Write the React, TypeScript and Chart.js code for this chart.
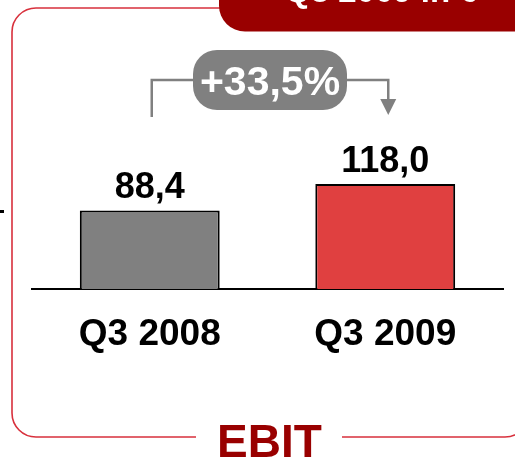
import React, { useEffect, useRef } from "react";
import { Chart, registerables } from "chart.js";

Chart.register(...registerables);

const categories = ["Q3 2008", "Q3 2009"];
const ebitValues = [88.4, 118.0];
const valueLabels = ["88,4", "118,0"];
const changeLabel = "+33,5%";
const barColors = ["#808080", "#e04040"];
const titleText = "EBIT";
const headerText = "Q3 2009 in €";

const FONT = "'Liberation Sans', Arial, Helvetica, sans-serif";
const FRAME_RED = "#d8303c";
const DARK_RED = "#990000";
const GRAY = "#808080";

function roundRectPath(ctx: CanvasRenderingContext2D, x: number, y: number, w: number, h: number, r: number) {
  ctx.beginPath();
  ctx.moveTo(x + r, y);
  ctx.lineTo(x + w - r, y);
  ctx.arcTo(x + w, y, x + w, y + r, r);
  ctx.lineTo(x + w, y + h - r);
  ctx.arcTo(x + w, y + h, x + w - r, y + h, r);
  ctx.lineTo(x + r, y + h);
  ctx.arcTo(x, y + h, x, y + h - r, r);
  ctx.lineTo(x, y + r);
  ctx.arcTo(x, y, x + r, y, r);
  ctx.closePath();
}

const decorPlugin = {
  id: "decor",
  beforeDraw(chart: any) {
    const ctx: CanvasRenderingContext2D = chart.ctx;
    ctx.save();
    ctx.fillStyle = "#ffffff";
    ctx.fillRect(0, 0, chart.width, chart.height);

    // frame
    const L = 12, T = 8, R = 529, B = 437, rad = 24;
    ctx.strokeStyle = FRAME_RED;
    ctx.lineWidth = 1.6;
    ctx.beginPath();
    ctx.moveTo(196, B);
    ctx.lineTo(L + rad, B);
    ctx.arcTo(L, B, L, B - rad, rad);
    ctx.lineTo(L, T + rad);
    ctx.arcTo(L, T, L + rad, T, rad);
    ctx.lineTo(225, T);
    ctx.stroke();
    ctx.beginPath();
    ctx.moveTo(342, B);
    ctx.lineTo(R - rad, B);
    ctx.arcTo(R, B, R, B - rad, rad);
    ctx.lineTo(R, T);
    ctx.stroke();

    // header tab
    ctx.fillStyle = DARK_RED;
    roundRectPath(ctx, 219, -60, 340, 91.5, 26);
    ctx.fill();
    ctx.fillStyle = "#ffffff";
    ctx.font = `bold 33px ${FONT}`;
    ctx.textAlign = "left";
    ctx.textBaseline = "alphabetic";
    ctx.fillText(headerText, 285, 1.5);

    // title
    ctx.fillStyle = DARK_RED;
    ctx.font = `bold 46px ${FONT}`;
    ctx.textAlign = "center";
    ctx.fillText(titleText, 269.5, 457);

    // small dash at left edge
    ctx.fillStyle = "#000000";
    ctx.fillRect(0, 210, 4, 3);
    ctx.restore();
  },
  afterDatasetsDraw(chart: any) {
    const ctx: CanvasRenderingContext2D = chart.ctx;
    const bars = chart.getDatasetMeta(0).data;
    ctx.save();
    // value labels
    ctx.fillStyle = "#000000";
    ctx.font = `bold 36px ${FONT}`;
    ctx.textAlign = "center";
    ctx.textBaseline = "alphabetic";
    bars.forEach((bar: any, i: number) => {
      ctx.fillText(valueLabels[i], bar.x, bar.y - 12);
    });

    // change annotation
    const lx = bars[0].x + 2;
    const rx = bars[1].x + 3;
    const lineY = 80;
    const boxL = 193, boxR = 347, boxT = 50, boxB = 110;
    ctx.strokeStyle = GRAY;
    ctx.lineWidth = 2.5;
    ctx.beginPath();
    ctx.moveTo(lx, 117);
    ctx.lineTo(lx, lineY);
    ctx.lineTo(boxL, lineY);
    ctx.stroke();
    ctx.beginPath();
    ctx.moveTo(boxR, lineY);
    ctx.lineTo(rx, lineY);
    ctx.lineTo(rx, 100);
    ctx.stroke();
    ctx.fillStyle = GRAY;
    ctx.beginPath();
    ctx.moveTo(rx - 8, 99);
    ctx.lineTo(rx + 8, 99);
    ctx.lineTo(rx, 115);
    ctx.closePath();
    ctx.fill();
    roundRectPath(ctx, boxL, boxT, boxR - boxL, boxB - boxT, 24);
    ctx.fill();
    ctx.fillStyle = "#ffffff";
    ctx.font = `bold 41px ${FONT}`;
    ctx.textAlign = "center";
    ctx.fillText(changeLabel, (boxL + boxR) / 2, 95);
    ctx.restore();
  },
};

export default function App() {
  const canvasRef = useRef<HTMLCanvasElement | null>(null);

  useEffect(() => {
    if (!canvasRef.current) return;
    const chart = new Chart(canvasRef.current, {
      type: "bar",
      data: {
        labels: categories,
        datasets: [
          {
            data: ebitValues,
            backgroundColor: barColors,
            borderColor: "#000000",
            borderWidth: 2,
            borderSkipped: "start",
            barPercentage: 0.594,
            categoryPercentage: 1,
          },
        ],
      },
      options: {
        animation: false,
        responsive: false,
        devicePixelRatio: 1,
        layout: { padding: { left: 32, right: 12, top: 0, bottom: 77.6 } },
        plugins: {
          legend: { display: false },
          tooltip: { enabled: false },
          title: { display: false },
        },
        scales: {
          x: {
            grid: { display: false, drawTicks: false },
            border: { display: true, color: "#000000", width: 2 },
            ticks: {
              color: "#000000",
              padding: 24,
              font: { family: FONT, size: 37, weight: "bold" },
            },
          },
          y: { display: false, min: 0, max: 325 },
        },
      },
      plugins: [decorPlugin],
    });
    return () => chart.destroy();
  }, []);

  return (
    <div style={{ position: "fixed", left: 0, top: 0, width: 515, height: 459, background: "#fff" }}>
      <canvas ref={canvasRef} width={515} height={459} style={{ display: "block", width: 515, height: 459 }} />
    </div>
  );
}
